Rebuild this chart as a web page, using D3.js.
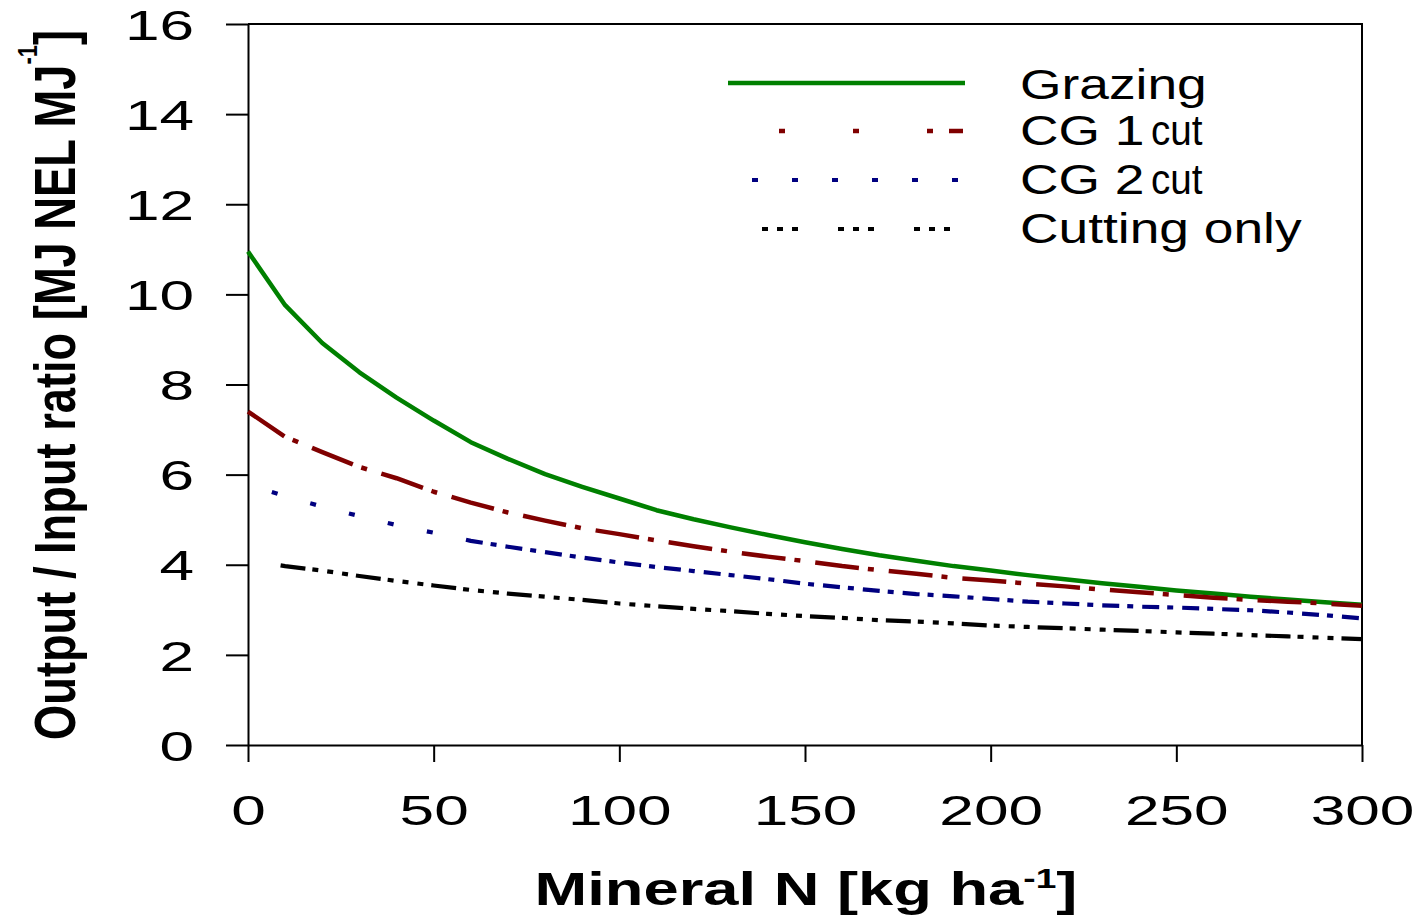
<!DOCTYPE html>
<html>
<head>
<meta charset="utf-8">
<script src="https://cdn.jsdelivr.net/npm/d3@7"></script>
<style>
  body { margin: 0; background: #fff; }
  svg { display: block; }
</style>
</head>
<body>
<script>
var width = 1419;
var height = 916;

// data
var nitrogen = [0,10,20,30,40,50,60,70,80,90,100,110,120,130,140,150,160,170,180,190,200,210,220,230,240,250,260,270,280,290,300];
var grazing  = [10.95,9.76,8.92,8.27,7.71,7.2,6.72,6.35,6.01,5.73,5.47,5.21,5.01,4.83,4.66,4.5,4.35,4.21,4.09,3.97,3.87,3.77,3.68,3.59,3.51,3.43,3.36,3.29,3.23,3.17,3.11];
var cg1cut   = [7.4,6.84,6.5,6.17,5.92,5.62,5.38,5.16,4.98,4.81,4.68,4.54,4.41,4.29,4.18,4.08,3.97,3.88,3.8,3.71,3.65,3.58,3.52,3.45,3.39,3.33,3.27,3.22,3.18,3.14,3.09];
var cg2cut   = [5.78,5.52,5.29,5.08,4.88,4.71,4.53,4.4,4.28,4.16,4.05,3.95,3.86,3.77,3.68,3.58,3.5,3.42,3.35,3.3,3.24,3.18,3.14,3.1,3.07,3.05,3.02,2.99,2.94,2.88,2.81];
var cutting  = [4.1,3.97,3.87,3.75,3.64,3.54,3.44,3.36,3.29,3.22,3.14,3.08,3.02,2.97,2.91,2.86,2.82,2.77,2.74,2.7,2.65,2.62,2.59,2.56,2.53,2.5,2.47,2.44,2.41,2.38,2.35];

var legendMain   = ['Grazing', 'CG 1', 'CG 2', 'Cutting only'];
var legendSuffix = ['', 'cut', 'cut', ''];

var xTicks = [0,50,100,150,200,250,300];
var yTicks = [0,2,4,6,8,10,12,14,16];

// styles
var colors = ['#008000', '#800000', '#000080', '#000000'];
var widths = [4.5, 4.5, 4.2, 4.2];
var linePrefix  = [null, [], [0,25,6,34,6,34,6,34,6,34,6,34], [0,33]];
var linePattern = [null, [44,9,6,15], [17,8,6,9], [25,7,6,9,6,9,6,8]];
var legendDash  = [null, '0,51,6,68,6,68,6,16,14,100', '6,34', '6,9,6,9,6,40'];
var legendOffset = [0, 0, 16, 42];

var font = '"Liberation Sans", Arial, Helvetica, sans-serif';

var svg = d3.select('body').append('svg')
  .attr('width', width)
  .attr('height', height);

var x = d3.scaleLinear().domain([0, 300]).range([248, 1362]);
var y = d3.scaleLinear().domain([0, 16]).range([745, 24]);

// frame (top and right)
svg.append('path')
  .attr('d', 'M' + x(0) + ',' + y(16) + 'H' + x(300) + 'V' + y(0))
  .attr('fill', 'none')
  .attr('stroke', '#000')
  .attr('stroke-width', 2);

//x axis
var xAxis = svg.append('g')
  .attr('transform', 'translate(0,' + y(0) + ')')
  .call(d3.axisBottom(x).tickValues(xTicks).tickSize(17).tickSizeOuter(0));

xAxis.selectAll('text')
  .attr('y', 80)
  .attr('dy', null)
  .attr('transform', 'scale(1.48,1)');

//y axis
var yAxis = svg.append('g')
  .attr('transform', 'translate(' + x(0) + ',0)')
  .call(d3.axisLeft(y).tickValues(yTicks).tickSize(22).tickSizeOuter(0));

yAxis.selectAll('text')
  .attr('x', -54)
  .attr('dy', '0.36em')
  .attr('transform', 'translate(-54,0) scale(1.48,1) translate(54,0)');

svg.selectAll('.domain, .tick line')
  .attr('stroke', '#000')
  .attr('stroke-width', 2);

svg.selectAll('.tick text')
  .attr('font-family', font)
  .attr('font-size', 42)
  .attr('fill', '#000');

// lines
var series = [grazing, cg1cut, cg2cut, cutting];

var line = d3.line()
  .x(function(d, i){ return x(nitrogen[i]); })
  .y(function(d){ return y(d); });

var dashList = function(prefix, pattern, total) {
  var out = prefix.slice();
  var len = d3.sum(prefix);
  while (len < total + 100) {
    out = out.concat(pattern);
    len += d3.sum(pattern);
  }
  return out.join(',');
};

series.forEach(function(s, k) {
  var p = svg.append('path')
    .datum(s)
    .attr('d', line)
    .attr('fill', 'none')
    .attr('stroke', colors[k])
    .attr('stroke-width', widths[k])
    .attr('stroke-linejoin', 'round');
  if (linePattern[k]) {
    var total = p.node().getTotalLength();
    p.attr('stroke-dasharray', dashList(linePrefix[k], linePattern[k], total));
  }
});

// legend
var legY = [83, 131, 180, 229];
var textY = [99, 145, 194, 243];

legendMain.forEach(function(name, k) {
  var l = svg.append('line')
    .attr('x1', 728).attr('x2', 965)
    .attr('y1', legY[k]).attr('y2', legY[k])
    .attr('stroke', colors[k])
    .attr('stroke-width', widths[k]);
  if (legendDash[k]) {
    l.attr('stroke-dasharray', legendDash[k]).attr('stroke-dashoffset', legendOffset[k]);
  }

  svg.append('text')
    .attr('x', 1020)
    .attr('y', textY[k])
    .attr('font-family', font)
    .attr('font-size', 42)
    .attr('transform', 'translate(1020,0) scale(1.27,1) translate(-1020,0)')
    .text(name);

  if (legendSuffix[k]) {
    svg.append('text')
      .attr('x', 1151)
      .attr('y', textY[k])
      .attr('font-family', font)
      .attr('font-size', 42)
      .attr('transform', 'translate(1151,0) scale(0.92,1) translate(-1151,0)')
      .text(legendSuffix[k]);
  }
});

// x title
var xt = svg.append('text')
  .attr('x', 806)
  .attr('y', 905)
  .attr('text-anchor', 'middle')
  .attr('font-family', font)
  .attr('font-weight', 'bold')
  .attr('font-size', 46);
xt.append('tspan').text('Mineral N [kg ha');
xt.append('tspan').attr('font-size', 27).attr('dy', -17).text('-1');
xt.append('tspan').attr('dy', 17).text(']');
var xw = xt.node().getBBox().width;
xt.attr('transform', 'translate(806,0) scale(' + (543 / xw) + ',1) translate(-806,0)');

// y title
var yg = svg.append('g')
  .attr('transform', 'translate(75,385) rotate(-90)');
var yt = yg.append('text')
  .attr('x', 0)
  .attr('y', 0)
  .attr('text-anchor', 'middle')
  .attr('font-family', font)
  .attr('font-weight', 'bold')
  .attr('font-size', 58);
yt.append('tspan').text('Output / Input ratio [MJ NEL MJ');
yt.append('tspan').attr('font-size', 28).attr('dy', -38).text('-1');
yt.append('tspan').attr('dy', 38).text(']');
var yw = yt.node().getBBox().width;
yt.attr('transform', 'scale(' + (710 / yw) + ',1)');
</script>
</body>
</html>
